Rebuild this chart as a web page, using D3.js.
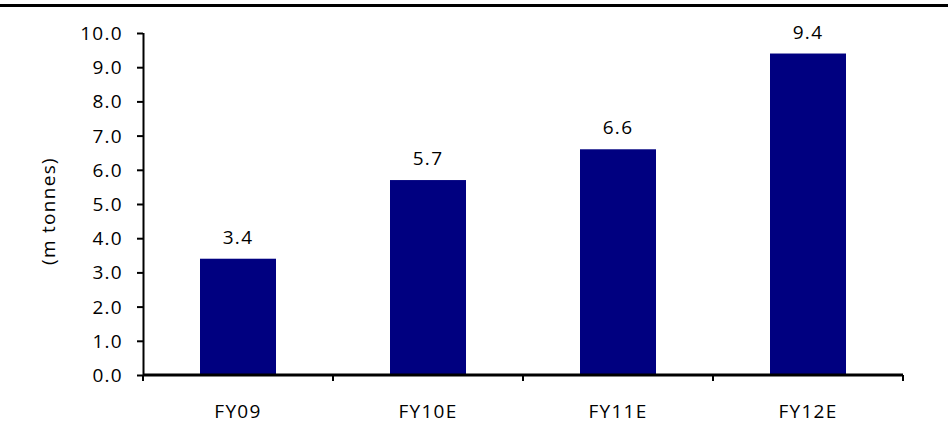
<!DOCTYPE html>
<html>
<head>
<meta charset="utf-8">
<script src="https://cdn.jsdelivr.net/npm/d3@7"></script>
<style>
  html, body { margin: 0; padding: 0; background: #fff; }
  svg { display: block; }
  text { font-family: "Open Sans", "Noto Sans", sans-serif; fill: #000; letter-spacing: 1.3px; }
</style>
</head>
<body>
<svg id="chart" width="948" height="429"></svg>
<script>
const categories = ["FY09", "FY10E", "FY11E", "FY12E"];
const volumes = [3.4, 5.7, 6.6, 9.4];
const yTicks = [0, 1, 2, 3, 4, 5, 6, 7, 8, 9, 10];
const yTitle = "(m tonnes)";

const FONT = 19;
const svg = d3.select("#chart");
const W = 948, H = 429;
const m = { left: 143, right: 45, top: 33, bottom: 54 };

// heavy rule across the top
svg.append("line")
  .attr("x1", 0).attr("x2", W).attr("y1", 5.5).attr("y2", 5.5)
  .attr("stroke", "#000").attr("stroke-width", 3);

const x = d3.scaleBand().domain(categories)
  .range([m.left, W - m.right]).paddingInner(0.6).paddingOuter(0.3);
const y = d3.scaleLinear().domain([0, 10]).range([H - m.bottom, m.top]);

const g = svg.append("g");

g.selectAll("rect.bar").data(categories).join("rect")
  .attr("class", "bar")
  .attr("x", d => x(d))
  .attr("width", x.bandwidth())
  .attr("y", (d, i) => y(volumes[i]))
  .attr("height", (d, i) => y(0) - y(volumes[i]))
  .attr("fill", "#000080");

g.selectAll("text.val").data(categories).join("text")
  .attr("class", "val")
  .attr("x", d => x(d) + x.bandwidth() / 2)
  .attr("y", (d, i) => y(volumes[i]) - 15)
  .attr("text-anchor", "middle")
  .attr("font-size", FONT)
  .text((d, i) => volumes[i].toFixed(1));

// y axis
const yAxis = g.append("g")
  .attr("transform", `translate(${m.left},0)`)
  .call(d3.axisLeft(y).tickValues(yTicks).tickFormat(d3.format(".1f")).tickSize(6).tickPadding(14));
yAxis.select(".domain").attr("stroke-width", 2).attr("d", `M0.5,${y(10)}V${y(0)}`);
yAxis.selectAll(".tick line").attr("stroke-width", 2);
yAxis.selectAll(".tick text").attr("font-size", FONT).attr("font-family", null).attr("dy", "0.34em");

// x axis with ticks at category boundaries
const xa = g.append("g").attr("transform", `translate(0,${y(0)})`);
xa.append("line")
  .attr("x1", m.left).attr("x2", W - m.right)
  .attr("stroke", "#000").attr("stroke-width", 3);
const step = x.step();
const bounds = d3.range(categories.length + 1).map(i => m.left + i * step);
xa.selectAll("line.b").data(bounds).join("line")
  .attr("class", "b")
  .attr("x1", d => d).attr("x2", d => d)
  .attr("y1", 0).attr("y2", 6)
  .attr("stroke", "#000").attr("stroke-width", 2);
xa.selectAll("text").data(categories).join("text")
  .attr("x", d => x(d) + x.bandwidth() / 2)
  .attr("y", 43)
  .attr("text-anchor", "middle")
  .attr("font-size", FONT)
  .text(d => d);

svg.append("text")
  .attr("transform", `translate(55,${(y(0) + y(10)) / 2 + 7}) rotate(-90)`)
  .attr("text-anchor", "middle")
  .attr("font-size", FONT)
  .text(yTitle);
</script>
</body>
</html>
